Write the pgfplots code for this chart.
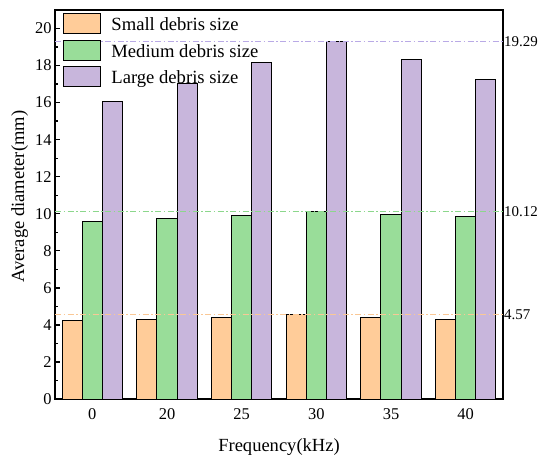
\documentclass[border=0pt]{standalone}
\usepackage{pgfplots}
\pgfplotsset{compat=1.18}
\usepackage{fontspec}
\setmainfont{Liberation Serif}
\definecolor{smallc}{RGB}{255,204,153}
\definecolor{medc}{RGB}{153,221,153}
\definecolor{largec}{RGB}{200,182,220}
\definecolor{smalll}{RGB}{250,200,150}
\definecolor{medl}{RGB}{140,215,140}
\definecolor{largel}{RGB}{185,170,230}
\newcommand{\tickfont}{\fontsize{16.5}{16.5}\selectfont}
\newcommand{\rfont}{\fontsize{15}{15}\selectfont}
\begin{document}
\begin{tikzpicture}
\path[use as bounding box] (-55bp,-67bp) rectangle (495bp,399bp);
\begin{axis}[
  scale only axis,
  width=448bp, height=389bp,
  clip=false,
  xmin=-0.5, xmax=5.5,
  ymin=0, ymax=21,
  xtick={0,1,2,3,4,5},
  xticklabels={{\tickfont 0},{\tickfont 20},{\tickfont 25},{\tickfont 30},{\tickfont 35},{\tickfont 40}},
  ytick={0,2,4,6,8,10,12,14,16,18,20},
  yticklabel={\tickfont\pgfmathprintnumber{\tick}},
  minor ytick={1,3,5,7,9,11,13,15,17,19},
  ytick pos=left,
  xtick pos=bottom,
  tick align=inside,
  major tick length=5bp,
  minor tick length=3bp,
  x tick style={draw=none},
  y tick style={line width=1.3bp, black},
  axis line style={line width=2bp},
  /pgf/number format/assume math mode=true,
  every tick label/.append style={font=\tickfont},
  xticklabel style={font=\tickfont, yshift=-6bp},
  yticklabel style={font=\tickfont},
  xlabel={Frequency(kHz)},
  ylabel={Average diameter(mm)},
  every axis label/.append style={font=\fontsize{18.6}{18.6}\selectfont},
  xlabel style={yshift=-12bp},
  ylabel style={at={(ticklabel cs:0.52)}},
  legend style={draw=none, fill=none, at={(rel axis cs:0,1)}, anchor=north west,
    xshift=8bp, yshift=-3bp, inner sep=0pt, row sep=5.3bp,
    font=\fontsize{18.7}{18.7}\selectfont,
    nodes={inner sep=0pt, anchor=base west}},
  legend cell align=left,
  legend image code/.code={\draw[#1, line width=1.2bp] (0bp,-3bp) rectangle (37bp,17bp);},
  legend style={column sep=10bp},
]
\addplot[ybar, bar width=0.27, bar shift=-0.27, fill=smallc, draw=black, line width=1bp]
  coordinates {(0,4.23) (1,4.31) (2,4.38) (3,4.57) (4,4.42) (5,4.31)};
\addlegendentry{Small debris size}
\addplot[ybar, bar width=0.27, bar shift=0, fill=medc, draw=black, line width=1bp]
  coordinates {(0,9.57) (1,9.75) (2,9.93) (3,10.12) (4,9.96) (5,9.84)};
\addlegendentry{Medium debris size}
\addplot[ybar, bar width=0.27, bar shift=0.27, fill=largec, draw=black, line width=1bp]
  coordinates {(0,16.07) (1,17.03) (2,18.16) (3,19.29) (4,18.32) (5,17.24)};
\addlegendentry{Large debris size}
\addplot[forget plot, smalll, line width=1.1bp, dash pattern=on 6bp off 2.5bp on 1.5bp off 2.5bp]
  coordinates {(-0.5,4.57) (5.5,4.57)};
\addplot[forget plot, medl, line width=1.1bp, dash pattern=on 6bp off 2.5bp on 1.5bp off 2.5bp]
  coordinates {(-0.5,10.12) (5.5,10.12)};
\addplot[forget plot, largel, line width=1.1bp, dash pattern=on 6bp off 2.5bp on 1.5bp off 2.5bp]
  coordinates {(-0.5,19.29) (5.5,19.29)};
\node[anchor=west, inner sep=1bp, font=\rfont] at (axis cs:5.5,4.57) {4.57};
\node[anchor=west, inner sep=1bp, font=\rfont] at (axis cs:5.5,10.12) {10.12};
\node[anchor=west, inner sep=1bp, font=\rfont] at (axis cs:5.5,19.29) {19.29};
\end{axis}
\end{tikzpicture}
\end{document}
